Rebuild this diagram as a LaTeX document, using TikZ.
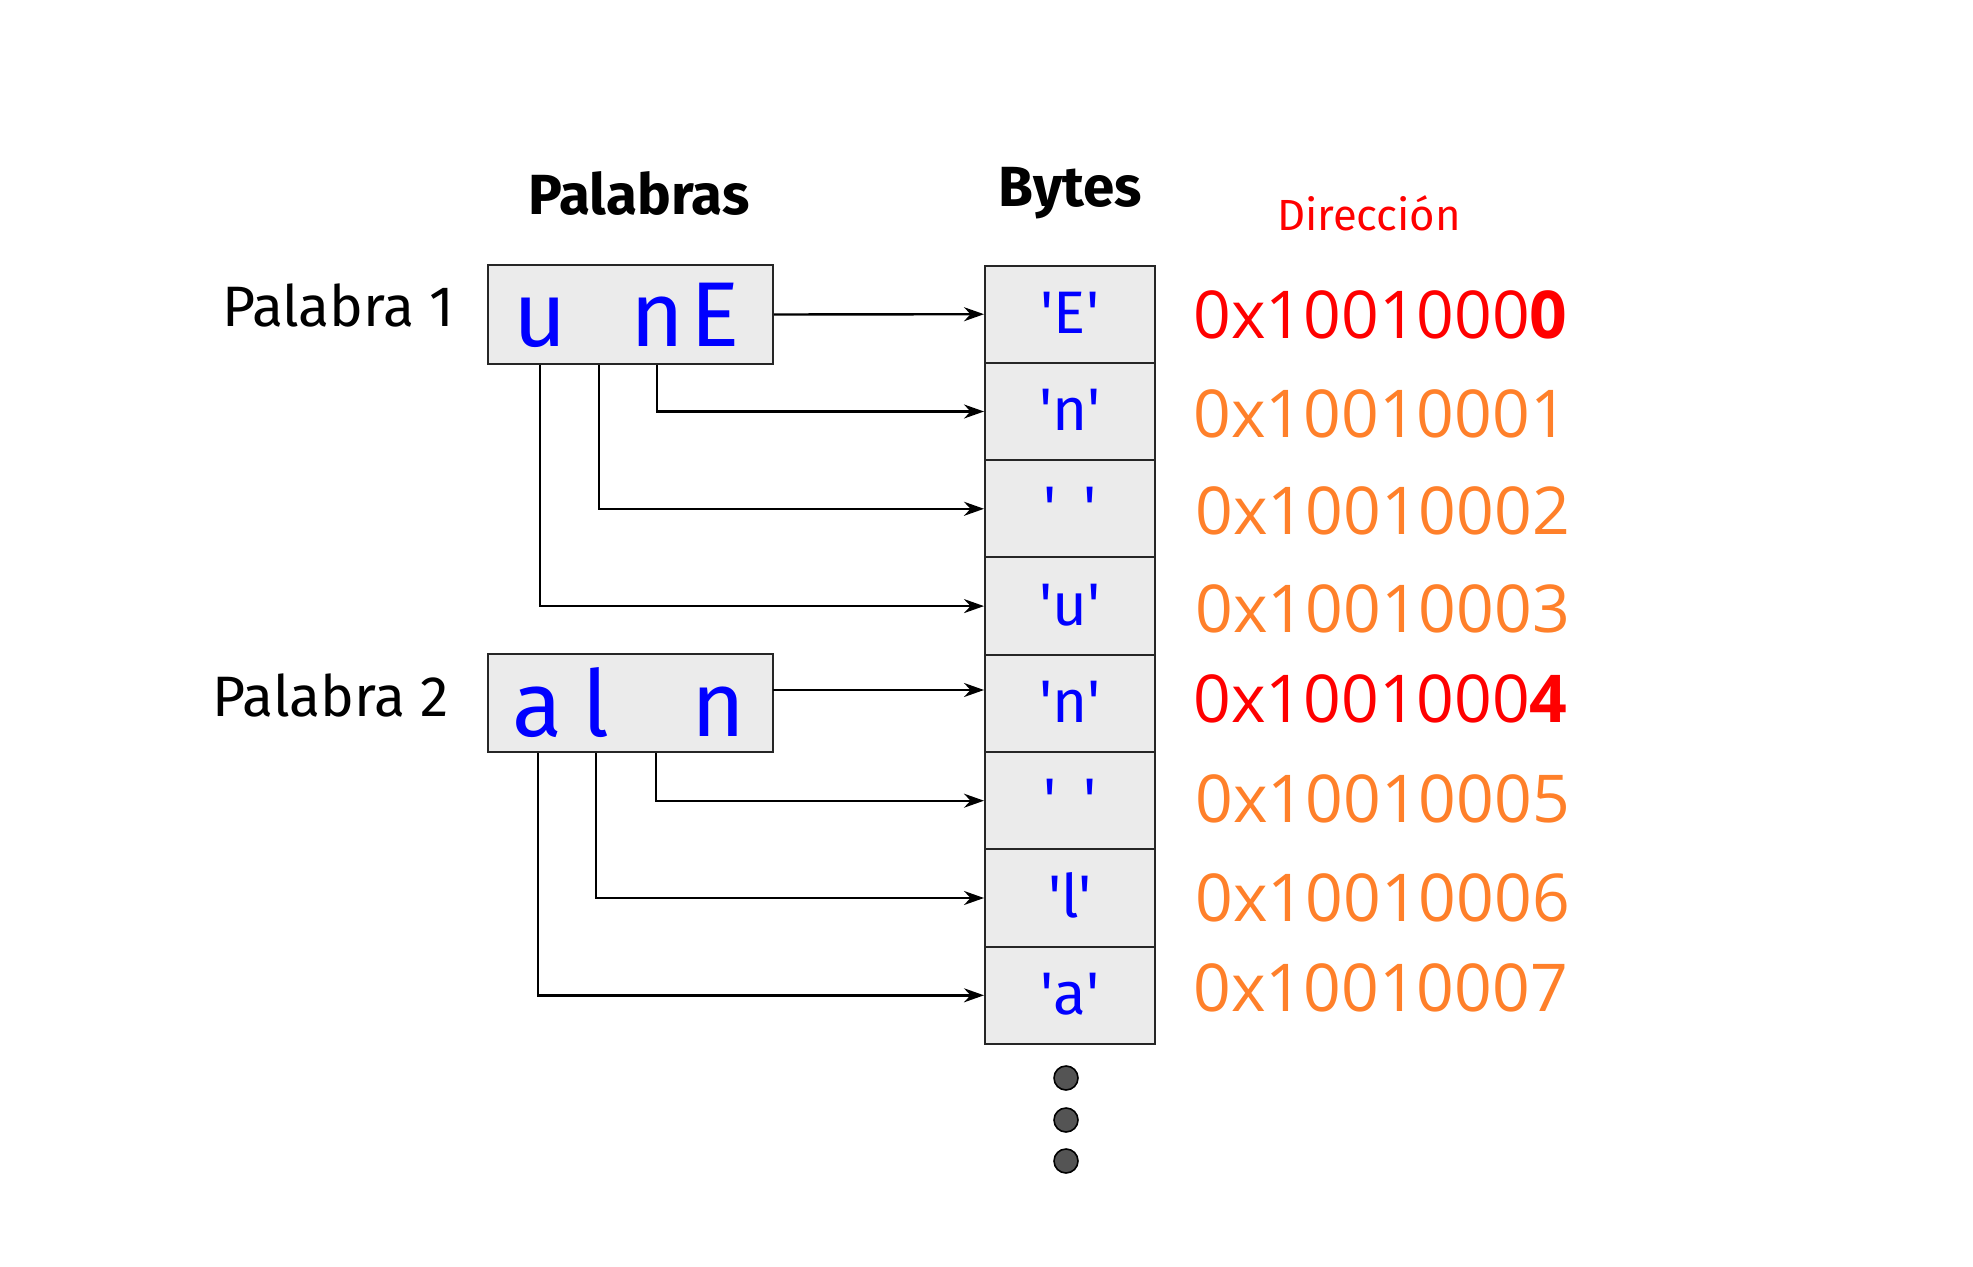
\documentclass[tikz,border=0pt]{standalone}
\usepackage{fontspec}
\setmainfont{Fira Sans}
\newfontfamily\addrfont{Open Sans}
\usetikzlibrary{arrows.meta}

\definecolor{dirorange}{RGB}{255,128,42}
\newcommand{\sq}{\textquotesingle}

\begin{document}
\begin{tikzpicture}[x=0.5pt, y=-0.5pt,
    wordbox/.style={draw=black!85, fill=black!8, line width=1pt, minimum width=142.5pt, minimum height=49pt, inner sep=0pt},
    bytecell/.style={draw=black!85, fill=black!8, line width=1pt, minimum width=85pt, minimum height=48.65pt, inner sep=0pt, text height=24pt, text depth=4.6pt, text=blue, font=\fontsize{30}{32}\selectfont},
    letter/.style={text=blue, anchor=base, inner sep=0pt, font=\fontsize{46}{48}\selectfont},
    addr/.style={anchor=base west, inner sep=0pt, font=\addrfont\fontsize{33}{36}\selectfont},
    title/.style={anchor=base, inner sep=0pt, font=\bfseries\fontsize{28.3}{31}\selectfont},
    wordname/.style={anchor=base east, inner sep=0pt, font=\fontsize{28.5}{31}\selectfont},
    arr/.style={-{Stealth[length=10pt, width=7pt]}, line width=1.2pt},
    dot/.style={circle, draw=black, fill=black!67, line width=0.8pt, minimum size=12pt, inner sep=0pt}
]
    \useasboundingbox (0,0) rectangle (1973,1267);

    % titles
    \node[title] (palabras) at (639,215) {Palabras};
    \node[title] (bytes) at (1070,207) {Bytes};
    \node[anchor=base, inner sep=0pt, text=red, font=\fontsize{21.8}{24}\selectfont] (dir) at (1369,231) {Dirección};

    % words
    \node[wordname] (p1) at (455,327) {Palabra 1};
    \node[wordname] (p2) at (449,716) {Palabra 2};

    \node[wordbox] (w1) at (630.5,314.5) {};
    \node[letter] (w1u) at (540,346) {u};
    \coordinate (w1s) at (599,346);
    \node[letter] (w1n) at (657,346) {n};
    \node[letter] (w1e) at (715,346) {E};

    \node[wordbox] (w2) at (630.5,703) {};
    \node[letter] (w2a) at (538,736) {a};
    \node[letter] (w2l) at (596,736) {l};
    \coordinate (w2s) at (656,736);
    \node[letter] (w2n) at (718,736) {n};

    % bytes
    \node[bytecell] (b1) at (1070,314.2) {\sq E\sq};
    \node[bytecell] (b2) at (1070,411.5) {\sq n\sq};
    \node[bytecell] (b3) at (1070,508.8) {\sq\hspace{0.45em}\sq};
    \node[bytecell] (b4) at (1070,606.1) {\sq u\sq};
    \node[bytecell] (b5) at (1070,703.4) {\sq n\sq};
    \node[bytecell] (b6) at (1070,800.7) {\sq\hspace{0.45em}\sq};
    \node[bytecell] (b7) at (1070,898) {\sq l\sq};
    \node[bytecell] (b8) at (1070,995.3) {\sq a\sq};

    \node[dot] (d1) at (1066,1078) {};
    \node[dot] (d2) at (1066,1120) {};
    \node[dot] (d3) at (1066,1161) {};

    % addresses
    \node[addr, text=red] (a0) at (1193,338) {0x1001000\textbf{0}};
    \node[addr, text=dirorange] (a1) at (1193,437) {0x10010001};
    \node[addr, text=dirorange] (a2) at (1195,534) {0x10010002};
    \node[addr, text=dirorange] (a3) at (1195,632) {0x10010003};
    \node[addr, text=red] (a4) at (1193,722) {0x1001000\textbf{4}};
    \node[addr, text=dirorange] (a5) at (1195,822) {0x10010005};
    \node[addr, text=dirorange] (a6) at (1195,921) {0x10010006};
    \node[addr, text=dirorange] (a7) at (1193,1011) {0x10010007};

    % arrows
    \draw[arr] (w1.east) -- (b1.west);
    \draw[arr] (w1n |- w1.south) |- (b2.west);
    \draw[arr] (w1s |- w1.south) |- (b3.west);
    \draw[arr] (w1u |- w1.south) |- (b4.west);

    \coordinate (w2o) at (773,690);
    \draw[arr] (w2o) -- (w2o -| b5.west);
    \draw[arr] (w2s |- w2.south) |- (b6.west);
    \draw[arr] (w2l |- w2.south) |- (b7.west);
    \draw[arr] (w2a |- w2.south) |- (b8.west);

\end{tikzpicture}
\end{document}
